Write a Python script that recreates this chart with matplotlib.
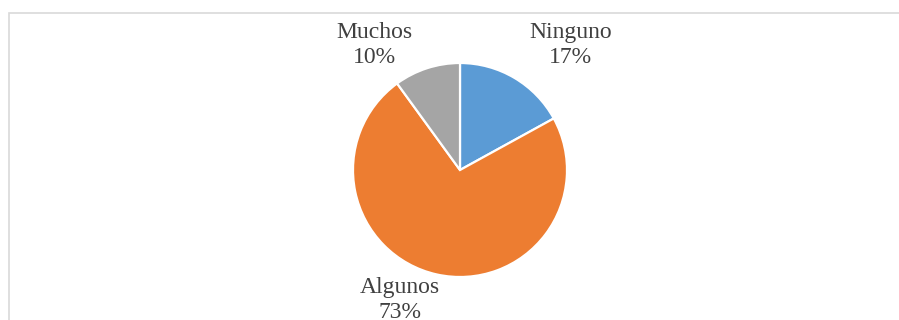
import matplotlib.pyplot as plt
from matplotlib.patches import Rectangle

categories = ['Ninguno', 'Algunos', 'Muchos']
values = [17, 73, 10]
colors = ['#5B9BD5', '#ED7D31', '#A5A5A5']

W, H = 899, 320
fig = plt.figure(figsize=(W / 100, H / 100), dpi=100)
ax = fig.add_axes([0, 0, 1, 1])

# chart frame, cut off at the right and bottom
ax.add_patch(Rectangle((8.5, -20), W + 20, H - 12.5 + 20, fill=False,
                       edgecolor='#d9d9d9', linewidth=1.2))

cx, cy, r = 460, H - 170, 107
wedges, _ = ax.pie(values, colors=colors, startangle=90, counterclock=False,
                   center=(cx, cy), radius=r, frame=True,
                   wedgeprops=dict(edgecolor='white', linewidth=1.6))
ax.set_xlim(0, W)
ax.set_ylim(0, H)
ax.set_aspect('equal')
ax.axis('off')

# label positions in units of the radius, relative to the centre
label_pos = {'Ninguno': (1.03, 1.165), 'Algunos': (-0.56, -1.215), 'Muchos': (-0.80, 1.165)}
for name, v in zip(categories, values):
    dx, dy = label_pos[name]
    ax.text(cx + dx * r, cy + dy * r, f'{name}\n{v}%', ha='center', va='center',
            fontsize=17, family='Liberation Serif', color='#404040',
            linespacing=1.25)

fig.savefig('out.png', dpi=100)
